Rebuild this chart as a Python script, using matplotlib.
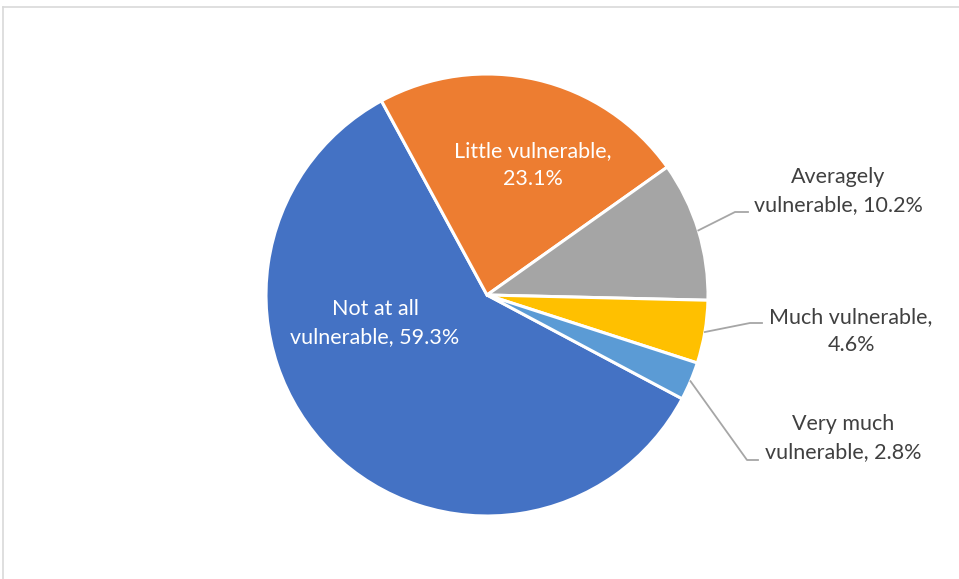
import numpy as np
import matplotlib
matplotlib.use('Agg')
import matplotlib.pyplot as plt

# vulnerability shares (%)
labels = ['Not at all\nvulnerable', 'Little vulnerable,\n', 'Averagely\nvulnerable', 'Much vulnerable,\n', 'Very much\nvulnerable']
values = [59.3, 23.1, 10.2, 4.6, 2.8]
colors = ['#4472C4', '#ED7D31', '#A5A5A5', '#FFC000', '#5B9BD5']

W, H = 959, 579
fig = plt.figure(figsize=(W / 100, H / 100), dpi=100)
ax = fig.add_axes([0, 0, 1, 1])
plt.rcParams['font.family'] = ['Lato', 'DejaVu Sans']

cx, cy, r = 487, H - 295, 221
wedges, _ = ax.pie(values, colors=colors, startangle=-28, counterclock=False,
                   center=(cx, cy), radius=r, frame=True,
                   wedgeprops=dict(edgecolor='white', linewidth=2.2))
ax.set_xlim(0, W)
ax.set_ylim(0, H)
ax.set_aspect('equal')
ax.axis('off')

# chart area border (top and left visible)
ax.plot([3, W], [H - 7, H - 7], color='#D9D9D9', lw=1.2, clip_on=False)
ax.plot([3, 3], [H - 7, 0], color='#D9D9D9', lw=1.2, clip_on=False)

def lab(i):
    name = labels[i]
    if name.endswith('\n'):
        return name + f'{values[i]}%'
    return name + f', {values[i]}%'

fs = 15.5
ls = 1.55
# labels inside the big slices
ax.text(533, H - 165, lab(1), color='white', fontsize=fs, ha='center', va='center', linespacing=ls)
ax.text(375, H - 323, lab(0), color='white', fontsize=fs, ha='center', va='center', linespacing=ls)

# outside labels with leader lines
outside = {2: ((838, 191), [(735, 212), (748, 212)]),
           3: ((851, 331), [(750, 323), (762, 323)]),
           4: ((843, 438), [(747, 460), (758, 460)])}
for i, (pos, elbow) in outside.items():
    w = wedges[i]
    mid = np.deg2rad((w.theta1 + w.theta2) / 2)
    x0, y0 = cx + r * np.cos(mid), cy + r * np.sin(mid)
    xs = [x0] + [p[0] for p in elbow]
    ys = [y0] + [H - p[1] for p in elbow]
    ax.plot(xs, ys, color='#A6A6A6', lw=1.3)
    ax.text(pos[0], H - pos[1], lab(i), color='#404040', fontsize=fs, ha='center', va='center', linespacing=ls)

fig.savefig('out.png', dpi=100, facecolor='white')
